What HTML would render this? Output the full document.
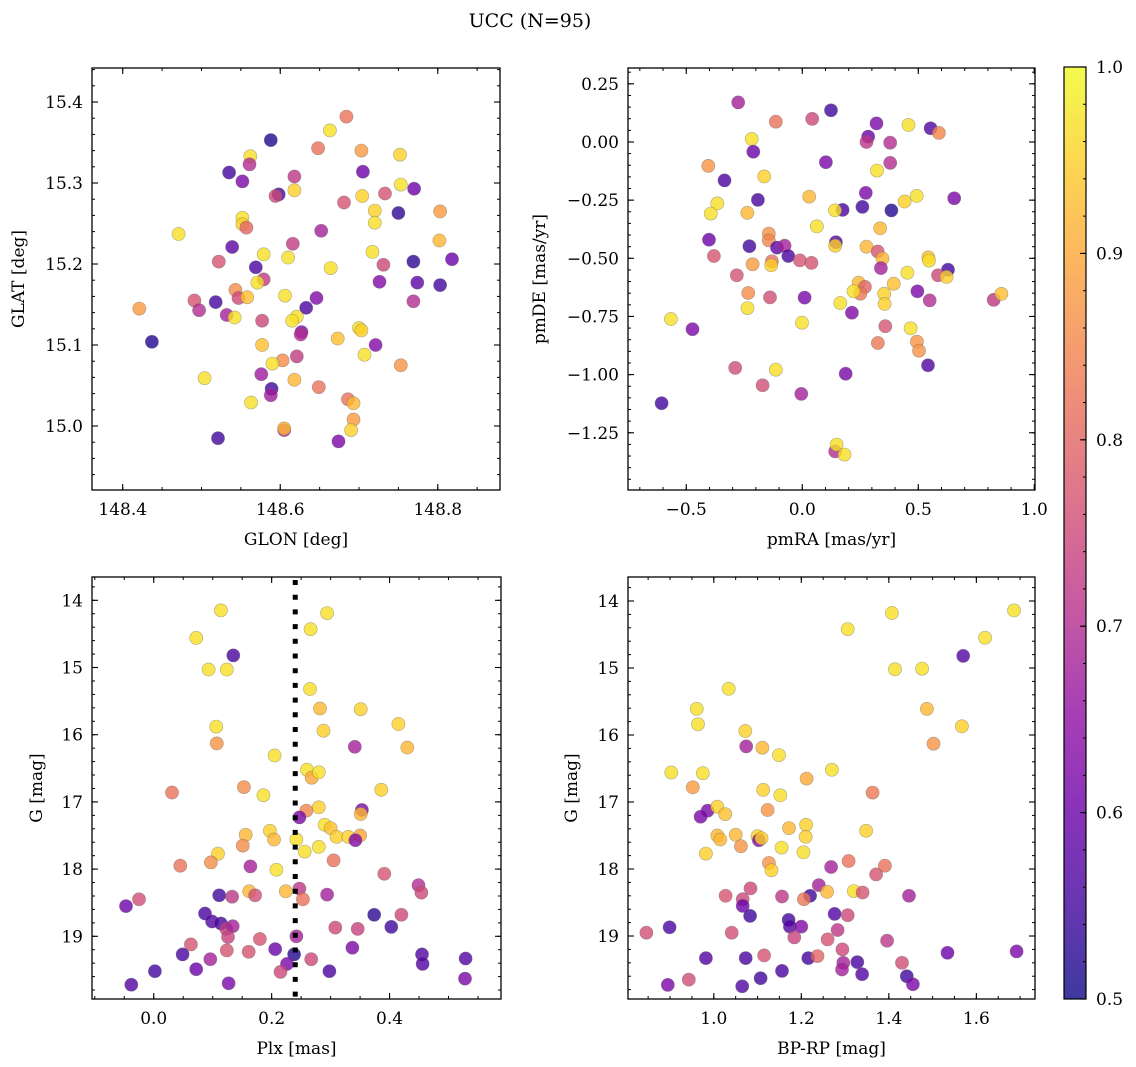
<!DOCTYPE html>
<html><head><meta charset="utf-8"><style>
body{margin:0;background:#fff;}
svg{display:block;font-family:"DejaVu Serif","Liberation Serif",serif;}
</style></head><body>
<svg id="fig" width="1136" height="1067" viewBox="0 0 1136 1067" xmlns="http://www.w3.org/2000/svg">
<defs><linearGradient id="cbgrad" x1="0" y1="1" x2="0" y2="0"></linearGradient></defs>
<text x="530" y="27" text-anchor="middle" font-size="19">UCC (N=95)</text>
</svg>
<script>
// ---- Panel 1 data: GLON / GLAT ----
const glon=[148.684,148.663,148.588,148.648,148.703,148.562,148.561,148.752,148.535,148.552,148.618,148.705,148.753,148.770,148.598,148.594,148.618,148.704,148.733,148.681,148.720,148.750,148.803,148.552,148.552,148.557,148.720,148.471,148.652,148.802,148.539,148.616,148.579,148.717,148.522,148.610,148.769,148.818,148.569,148.579,148.664,148.731,148.571,148.726,148.774,148.803,148.543,148.547,148.558,148.606,148.646,148.491,148.518,148.769,148.421,148.497,148.633,148.532,148.542,148.621,148.615,148.577,148.627,148.626,148.700,148.703,148.673,148.437,148.721,148.577,148.707,148.621,148.603,148.590,148.753,148.504,148.576,148.618,148.589,148.588,148.649,148.686,148.693,148.563,148.693,148.690,148.605,148.605,148.521,148.674];
const glat=[15.382,15.365,15.353,15.343,15.340,15.333,15.323,15.335,15.313,15.302,15.308,15.314,15.298,15.293,15.286,15.284,15.291,15.284,15.287,15.276,15.266,15.263,15.265,15.257,15.249,15.245,15.251,15.237,15.241,15.229,15.221,15.225,15.212,15.215,15.203,15.208,15.203,15.206,15.196,15.181,15.195,15.199,15.177,15.178,15.177,15.174,15.168,15.158,15.159,15.161,15.158,15.155,15.153,15.154,15.145,15.143,15.146,15.137,15.134,15.135,15.130,15.130,15.116,15.113,15.121,15.118,15.108,15.104,15.100,15.100,15.088,15.086,15.081,15.077,15.075,15.059,15.064,15.057,15.046,15.038,15.048,15.033,15.028,15.029,15.008,14.995,14.995,14.997,14.985,14.981];
const probA=[0.82,0.97,0.52,0.82,0.88,0.97,0.70,0.95,0.55,0.62,0.72,0.60,0.97,0.60,0.55,0.75,0.95,0.95,0.77,0.77,0.95,0.53,0.88,0.97,0.95,0.80,0.97,0.97,0.68,0.92,0.58,0.73,0.97,0.97,0.77,0.97,0.53,0.60,0.56,0.73,0.97,0.75,0.97,0.63,0.58,0.55,0.86,0.75,0.93,0.97,0.63,0.77,0.55,0.70,0.88,0.70,0.56,0.68,0.97,0.97,0.97,0.75,0.62,0.70,0.97,0.95,0.93,0.52,0.63,0.93,0.97,0.73,0.86,0.97,0.87,0.97,0.67,0.92,0.55,0.67,0.82,0.82,0.92,0.97,0.88,0.95,0.70,0.92,0.55,0.62];
// ---- Panel 2 data: pmRA / pmDE ----
const pmra=[-0.276,0.124,-0.114,0.043,0.320,0.458,0.553,0.589,-0.218,0.284,0.277,0.379,-0.211,0.102,0.379,-0.405,0.322,-0.335,-0.164,0.274,0.030,0.493,0.441,0.655,-0.191,-0.366,-0.394,-0.237,0.174,0.141,0.259,0.384,0.063,0.336,-0.402,-0.144,-0.144,-0.228,-0.109,-0.076,-0.060,0.145,0.142,0.277,0.325,0.346,0.339,0.543,0.546,-0.381,-0.010,0.040,-0.214,-0.131,-0.134,0.628,0.585,0.622,0.453,-0.282,0.394,0.243,0.270,0.250,0.221,0.353,0.355,0.496,0.549,0.825,0.858,-0.233,-0.139,0.010,-0.236,0.164,0.214,-0.566,-0.473,-0.001,0.358,0.467,0.326,0.494,0.503,0.542,-0.289,-0.114,0.187,-0.171,-0.004,-0.606,0.142,0.148,0.182];
const pmde=[0.170,0.136,0.087,0.099,0.080,0.073,0.059,0.039,0.013,0.023,0.000,-0.003,-0.042,-0.087,-0.090,-0.103,-0.123,-0.165,-0.148,-0.219,-0.235,-0.232,-0.256,-0.242,-0.249,-0.264,-0.308,-0.305,-0.292,-0.294,-0.279,-0.294,-0.363,-0.371,-0.420,-0.394,-0.423,-0.448,-0.454,-0.446,-0.490,-0.431,-0.446,-0.450,-0.471,-0.501,-0.542,-0.496,-0.510,-0.490,-0.509,-0.520,-0.526,-0.513,-0.530,-0.549,-0.573,-0.580,-0.562,-0.573,-0.609,-0.605,-0.623,-0.652,-0.642,-0.652,-0.696,-0.642,-0.681,-0.679,-0.653,-0.649,-0.668,-0.669,-0.714,-0.692,-0.734,-0.761,-0.805,-0.777,-0.792,-0.801,-0.864,-0.858,-0.897,-0.960,-0.971,-0.979,-0.996,-1.046,-1.083,-1.123,-1.330,-1.301,-1.344];
const probB=[0.68,0.55,0.82,0.75,0.62,0.97,0.57,0.85,0.97,0.60,0.72,0.70,0.60,0.62,0.70,0.87,0.97,0.56,0.95,0.62,0.92,0.97,0.95,0.62,0.56,0.97,0.97,0.92,0.56,0.97,0.55,0.52,0.97,0.92,0.60,0.87,0.85,0.55,0.58,0.68,0.56,0.57,0.95,0.92,0.77,0.92,0.68,0.93,0.97,0.77,0.77,0.77,0.88,0.82,0.95,0.55,0.75,0.95,0.97,0.77,0.93,0.92,0.80,0.83,0.97,0.95,0.95,0.62,0.70,0.72,0.93,0.86,0.76,0.62,0.97,0.97,0.63,0.97,0.62,0.97,0.77,0.97,0.83,0.87,0.87,0.57,0.76,0.97,0.62,0.76,0.68,0.55,0.70,0.97,0.97];
// ---- Panel 3 data: Plx / G ----
const plx=[0.114,0.294,0.072,0.266,0.135,0.093,0.124,0.265,0.282,0.351,0.106,0.415,0.288,0.107,0.341,0.430,0.205,0.260,0.268,0.280,0.031,0.153,0.186,0.386,0.280,0.259,0.247,0.353,0.351,0.290,0.300,0.310,0.330,0.350,0.342,0.156,0.197,0.204,0.151,0.242,0.280,0.256,0.109,0.097,0.045,0.164,0.208,0.305,0.391,0.449,0.454,0.162,0.172,0.224,0.247,0.253,0.294,0.111,0.133,-0.047,-0.025,0.087,0.099,0.114,0.123,0.134,0.126,0.374,0.420,0.403,0.308,0.346,0.063,0.180,0.242,0.049,0.124,0.161,0.096,0.206,0.238,0.267,0.337,0.455,0.529,0.002,0.072,0.226,0.215,0.298,0.456,-0.038,0.127,0.528];
const gA=[14.15,14.19,14.56,14.43,14.82,15.03,15.03,15.32,15.61,15.62,15.88,15.84,15.94,16.13,16.18,16.19,16.31,16.52,16.64,16.56,16.86,16.78,16.90,16.82,17.08,17.13,17.23,17.12,17.18,17.34,17.39,17.52,17.52,17.50,17.57,17.49,17.43,17.56,17.65,17.56,17.67,17.74,17.77,17.90,17.95,17.96,18.01,17.87,18.07,18.24,18.35,18.33,18.39,18.33,18.29,18.45,18.38,18.39,18.41,18.55,18.45,18.66,18.78,18.81,18.89,18.85,19.01,18.68,18.68,18.86,18.87,18.89,19.12,19.04,19.00,19.27,19.21,19.23,19.34,19.19,19.27,19.34,19.17,19.27,19.33,19.52,19.49,19.41,19.53,19.52,19.41,19.72,19.70,19.63];
const probC=[0.97,0.97,0.97,0.97,0.56,0.97,0.97,0.97,0.92,0.95,0.97,0.95,0.95,0.87,0.68,0.92,0.97,0.97,0.90,0.97,0.82,0.86,0.97,0.95,0.95,0.85,0.62,0.62,0.92,0.97,0.93,0.95,0.95,0.90,0.63,0.92,0.95,0.92,0.86,0.97,0.97,0.97,0.95,0.86,0.82,0.68,0.97,0.82,0.77,0.70,0.75,0.92,0.76,0.92,0.72,0.82,0.68,0.55,0.72,0.60,0.76,0.56,0.57,0.56,0.73,0.68,0.74,0.53,0.75,0.55,0.75,0.74,0.77,0.77,0.68,0.56,0.77,0.77,0.68,0.60,0.52,0.75,0.62,0.57,0.57,0.55,0.60,0.62,0.75,0.56,0.57,0.57,0.62,0.62];
const plxLine=[0.240];
// ---- Panel 4 data: BP-RP / G ----
const bprp=[1.686,1.407,1.306,1.620,1.570,1.414,1.476,1.034,0.961,1.487,0.964,1.567,1.072,1.502,1.074,1.111,1.149,0.903,0.975,1.270,1.212,0.952,1.113,1.152,1.363,0.986,0.970,1.008,1.026,1.123,1.211,1.172,1.348,1.008,1.015,1.050,1.062,1.100,1.103,1.109,1.210,1.155,1.205,0.982,1.126,1.132,1.308,1.268,1.391,1.371,1.240,1.259,1.320,1.340,1.220,1.206,1.027,1.084,1.066,1.066,1.083,1.156,1.446,1.276,1.306,1.171,1.174,1.200,1.184,1.283,1.260,0.899,0.846,1.041,1.396,1.294,0.982,1.073,1.115,1.216,1.237,1.296,1.293,1.328,1.339,1.430,1.534,1.692,0.895,0.943,1.107,1.156,1.065,1.441,1.455];
const gB=[14.14,14.18,14.42,14.55,14.82,15.02,15.01,15.31,15.61,15.61,15.84,15.87,15.94,16.13,16.17,16.19,16.30,16.56,16.57,16.52,16.65,16.78,16.82,16.90,16.86,17.13,17.22,17.07,17.18,17.12,17.34,17.39,17.43,17.50,17.56,17.49,17.66,17.51,17.57,17.54,17.52,17.68,17.75,17.77,17.91,18.02,17.88,17.97,17.95,18.08,18.24,18.34,18.33,18.35,18.40,18.45,18.40,18.29,18.45,18.55,18.70,18.41,18.40,18.67,18.69,18.76,18.86,18.86,19.02,18.91,19.05,18.87,18.95,18.95,19.07,19.20,19.33,19.33,19.29,19.33,19.30,19.40,19.50,19.39,19.57,19.40,19.25,19.23,19.73,19.65,19.63,19.52,19.75,19.60,19.72];
const probD=[0.97,0.97,0.97,0.97,0.57,0.97,0.97,0.97,0.97,0.92,0.97,0.95,0.95,0.87,0.68,0.92,0.97,0.97,0.97,0.97,0.90,0.88,0.95,0.97,0.83,0.62,0.62,0.95,0.93,0.87,0.95,0.92,0.95,0.92,0.92,0.92,0.87,0.95,0.63,0.95,0.95,0.97,0.97,0.95,0.87,0.95,0.82,0.68,0.82,0.77,0.68,0.92,0.97,0.77,0.55,0.83,0.77,0.75,0.75,0.60,0.55,0.72,0.68,0.57,0.75,0.55,0.57,0.63,0.74,0.72,0.77,0.56,0.76,0.76,0.72,0.75,0.57,0.56,0.77,0.55,0.80,0.68,0.68,0.56,0.57,0.76,0.60,0.62,0.62,0.76,0.55,0.56,0.57,0.55,0.62];
// ---- Colorbar ----
const cbTicks=[0.5,0.6,0.7,0.8,0.9,1.0];
const cbRange=[0.5,1.0];

const NS='http://www.w3.org/2000/svg';
const svg=document.getElementById('fig');
function mk(tag,attrs,parent){const e=document.createElementNS(NS,tag);for(const k in attrs)e.setAttribute(k,attrs[k]);(parent||svg).appendChild(e);return e;}
const stops=[[13,8,135],[65,4,157],[106,0,168],[143,13,164],[177,42,144],[204,71,120],[225,100,98],[242,132,75],[252,166,54],[252,206,37],[240,249,33]];
function plasma(t){t=Math.max(0,Math.min(1,t));const p=t*10,i=Math.min(9,Math.floor(p)),f=p-i;const a=stops[i],b=stops[i+1];return 'rgb('+a.map((v,j)=>Math.round(v+(b[j]-v)*f)).join(',')+')';}
function cnorm(v){return (v-cbRange[0])/(cbRange[1]-cbRange[0]);}
function fmt(v,d){const s=Math.abs(v).toFixed(d);return (v<-1e-9?'\u2212':'')+s;}
const FS=17;

function panel(name,box,xd,yd,invY,xt,xmin,yt,ymin,xdec,ydec,xs,ys,cs,xlabel,ylabel,ylx){
  const [x0,x1,y0,y1]=box;
  const sx=v=>x0+(v-xd[0])/(xd[1]-xd[0])*(x1-x0);
  const sy=invY?(v=>y0+(v-yd[0])/(yd[1]-yd[0])*(y1-y0)):(v=>y1-(v-yd[0])/(yd[1]-yd[0])*(y1-y0));
  const g=mk('g',{});
  
  
  const pts=mk('g',{},g);
  
  
  for(let i=0;i<xs.length;i++){
    const c=mk('circle',{cx:sx(xs[i]).toFixed(1),cy:sy(ys[i]).toFixed(1),r:6.6,fill:plasma(cnorm(cs[i])),'fill-opacity':0.8,stroke:'#666','stroke-opacity':0.5,'stroke-width':0.6},pts);
    
    
  }
  const ax=mk('g',{},g);
  
  
  for(const v of xmin){const x=sx(v);if(x<x0||x>x1)continue;mk('line',{x1:x,x2:x,y1:y1,y2:y1-3,stroke:'#000','stroke-width':1},ax);mk('line',{x1:x,x2:x,y1:y0,y2:y0+3,stroke:'#000','stroke-width':1},ax);}
  for(const v of ymin){const y=sy(v);if(y<y0||y>y1)continue;mk('line',{x1:x0,x2:x0+3,y1:y,y2:y,stroke:'#000','stroke-width':1},ax);mk('line',{x1:x1,x2:x1-3,y1:y,y2:y,stroke:'#000','stroke-width':1},ax);}
  for(const v of xt){const x=sx(v);if(x<x0-0.5||x>x1+0.5)continue;mk('line',{x1:x,x2:x,y1:y1,y2:y1-6,stroke:'#000','stroke-width':1.1},ax);mk('line',{x1:x,x2:x,y1:y0,y2:y0+6,stroke:'#000','stroke-width':1.1},ax);
    const t=mk('text',{x:x,y:y1+25,'text-anchor':'middle','font-size':FS},ax);t.textContent=fmt(v,xdec);
    
    }
  for(const v of yt){const y=sy(v);if(y<y0-0.5||y>y1+0.5)continue;mk('line',{x1:x0,x2:x0+6,y1:y,y2:y,stroke:'#000','stroke-width':1.1},ax);mk('line',{x1:x1,x2:x1-6,y1:y,y2:y,stroke:'#000','stroke-width':1.1},ax);
    const t=mk('text',{x:x0-9,y:y+6,'text-anchor':'end','font-size':FS},ax);t.textContent=fmt(v,ydec);
    
    }
  const fr=mk('rect',{x:x0,y:y0,width:x1-x0,height:y1-y0,fill:'none',stroke:'#000','stroke-width':1.3},ax);
  
  
  const xl=mk('text',{x:(x0+x1)/2,y:y1+55,'text-anchor':'middle','font-size':FS},g);xl.textContent=xlabel;
  
  
  const yc=(y0+y1)/2;
  const yl=mk('text',{x:ylx,y:yc,'text-anchor':'middle','font-size':FS,transform:'rotate(-90 '+ylx+' '+yc+')'},g);yl.textContent=ylabel;
  
  
  return {sx,sy,g,ax};
}
function rng(a,b,s){const r=[];for(let v=a;v<=b+1e-9;v+=s)r.push(Math.round(v*1e6)/1e6);return r;}

panel('glon-glat',[92,500,68,490],[148.361,148.879],[14.921,15.442],false,[148.4,148.6,148.8],rng(148.35,148.9,0.05),[15.0,15.1,15.2,15.3,15.4],rng(14.92,15.44,0.02),1,1,glon,glat,probA,'GLON [deg]','GLAT [deg]',24);
panel('pm',[628,1035,68,490],[-0.751,1.003],[-1.496,0.318],false,[-0.5,0,0.5,1.0],rng(-0.7,1.0,0.1),[-1.5,-1.25,-1.0,-0.75,-0.5,-0.25,0,0.25],rng(-1.5,0.3,0.05),1,2,pmra,pmde,probB,'pmRA [mas/yr]','pmDE [mas/yr]',545);
const p3=panel('plx-g',[92,501,577,999],[-0.1047,0.589],[13.653,19.933],true,[0,0.2,0.4],rng(-0.1,0.6,0.05),[14,15,16,17,18,19],rng(13.8,19.8,0.2),1,0,plx,gA,probC,'Plx [mas]','G [mag]',42);
panel('bprp-g',[628,1035,577,999],[0.804,1.734],[13.642,19.94],true,[1.0,1.2,1.4,1.6],rng(0.85,1.7,0.05),[14,15,16,17,18,19],rng(13.8,19.8,0.2),1,0,bprp,gB,probD,'BP-RP [mag]','G [mag]',577);

for(const v of plxLine){
  const ln=mk('line',{x1:p3.sx(v),x2:p3.sx(v),y1:580,y2:999,stroke:'#000','stroke-width':5,'stroke-dasharray':'5 9.7'},p3.g);
  
  
}

const cb=[1064,1086,67,999];
const grad=document.getElementById('cbgrad');
for(let k=0;k<=20;k++){mk('stop',{offset:(k/20),'stop-color':plasma(k/20),'stop-opacity':0.8},grad);}
const cg=mk('g',{});


const cr=mk('rect',{x:cb[0],y:cb[2],width:cb[1]-cb[0],height:cb[3]-cb[2],fill:'url(#cbgrad)',stroke:'#000','stroke-width':1.2},cg);


const cy=v=>cb[3]-cnorm(v)*(cb[3]-cb[2]);
for(const v of rng(0.52,0.98,0.02)){mk('line',{x1:cb[1],x2:cb[1]-3,y1:cy(v),y2:cy(v),stroke:'#000','stroke-width':1},cg);}
for(const v of cbTicks){
  mk('line',{x1:cb[1],x2:cb[1]-6,y1:cy(v),y2:cy(v),stroke:'#000','stroke-width':1.1},cg);
  const t=mk('text',{x:cb[1]+10,y:cy(v)+6,'font-size':FS},cg);t.textContent=v.toFixed(1);
  
  
}
</script>
</body></html>
